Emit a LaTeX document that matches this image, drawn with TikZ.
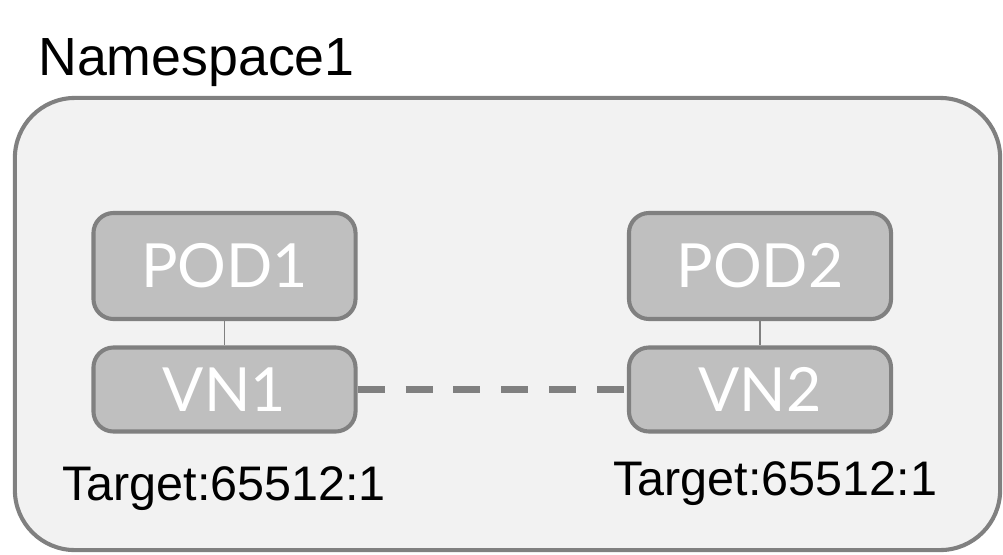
\documentclass[tikz,border=0pt]{standalone}
\usepackage{fontspec}
\setmainfont{Liberation Sans}
\newfontfamily\latofont{Lato}
\usetikzlibrary{positioning}
\definecolor{nsfill}{HTML}{F2F2F2}
\definecolor{boxfill}{HTML}{BFBFBF}
\definecolor{edgegray}{HTML}{808080}
\tikzset{
  nsbox/.style={draw=edgegray,fill=nsfill,line width=2.9pt,rounded corners=1.5cm,
    minimum width=24.625cm,minimum height=11.3cm},
  podbox/.style={draw=edgegray,fill=boxfill,line width=2.9pt,rounded corners=0.5cm,
    minimum width=6.55cm,minimum height=2.65cm,text=white,
    font=\latofont\fontsize{43.3}{43}\selectfont},
  vnbox/.style={podbox,minimum height=2.1cm},
  tgt/.style={font=\fontsize{34.5}{35}\selectfont,anchor=base west,inner sep=0pt},
  link/.style={draw=edgegray,line width=1.4pt},
  dashline/.style={draw=edgegray,line width=4.3pt,dash pattern=on 19.2pt off 14.9pt}
}
\begin{document}
\begin{tikzpicture}[x=0.025cm,y=-0.025cm]
  \useasboundingbox (0,0) rectangle (1003,554);
  \node[nsbox] (ns) at (507.5,324) {};
  \node[font=\fontsize{38.2}{38}\selectfont,anchor=base west,inner sep=0pt] (nslabel) at (38,75) {Namespace1};
  % pods and their virtual networks
  \node[podbox] (pod1) at (224.5,266) {POD1};
  \node[vnbox] (vn1) at (224.5,389.5) {VN1};
  \node[podbox] (pod2) at (760,266) {POD2};
  \node[vnbox] (vn2) at (760,389.5) {VN2};
  \path[link] (pod1) edge (vn1);
  \path[link] (pod2) edge (vn2);
  \draw[dashline] (vn1.east) -- (vn2.west);
  % route targets
  \node[tgt] (tgt1) at (62,500) {Target:65512:1};
  \node[tgt] (tgt2) at (613,495) {Target:65512:1};
\end{tikzpicture}
\end{document}
